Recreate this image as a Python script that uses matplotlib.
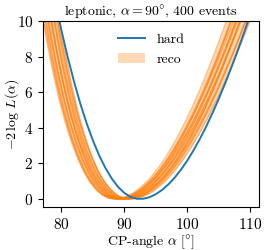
import matplotlib
matplotlib.use("Agg")
import matplotlib.pyplot as plt
import numpy as np
from matplotlib.patches import Patch
from matplotlib.lines import Line2D

plt.rcParams['font.family'] = ['cmr10', 'DejaVu Serif']
plt.rcParams['mathtext.fontset'] = 'cm'
plt.rcParams['axes.formatter.use_mathtext'] = True
plt.rcParams['font.size'] = 9.5

# hard-level -2 log L
alpha_grid = np.arange(78, 112)
hard_vals = [12.9, 11.13, 9.49, 7.98, 6.61, 5.37, 4.27, 3.30, 2.45, 1.74, 1.15,
             0.68, 0.34, 0.115, 0.01, 0.015, 0.10, 0.27, 0.51, 0.82, 1.20,
             1.65, 2.16, 2.74, 3.38, 4.07, 4.83, 5.63, 6.49, 7.39, 8.34,
             9.33, 10.36, 11.4]

# reco shape, relative to its minimum [deg]
reco_offset = np.arange(-12, 21)
reco_vals = [11.51, 9.39, 7.54, 5.92, 4.53, 3.36, 2.39, 1.60, 0.99, 0.54, 0.23,
             0.055, 0.0, 0.035, 0.14, 0.31, 0.55, 0.845, 1.20, 1.62, 2.09,
             2.62, 3.20, 3.83, 4.50, 5.23, 5.99, 6.80, 7.64, 8.52, 9.43,
             10.38, 11.36]

# reco pseudo-experiments: position of minimum and vertical scale
reco_center = [88.4, 88.5, 88.7, 88.8, 89.0, 89.1, 89.3, 89.4, 89.5, 89.7,
               89.8, 90.0, 90.1, 90.3, 90.4, 90.6, 90.7, 90.9]
reco_scale = [1.08, 0.98, 1.04, 0.95, 1.06, 1.00, 1.10, 0.96, 1.03, 0.99,
              1.07, 0.94, 1.02, 1.05, 0.97, 1.09, 1.01, 0.96]

fig = plt.figure(figsize=(2.66, 2.5), dpi=100)
ax = fig.add_axes([0.162, 0.172, 0.812, 0.744])

reco = np.array(reco_vals)
fine = np.linspace(76, 113, 500)
curves = []
for c, k in zip(reco_center, reco_scale):
    y = np.interp(fine, reco_offset + c, reco) * k
    curves.append(y)
    ax.plot(fine, y, color='C1', alpha=0.5, lw=1)
curves = np.array(curves)
ax.fill_between(fine, curves.min(axis=0), curves.max(axis=0), color='C1', alpha=0.3, lw=0)

ax.plot(alpha_grid, hard_vals, color='C0', lw=1.4)

ax.set_xlim(77.1, 111.4)
ax.set_ylim(-0.45, 10)
ax.set_xticks([80, 90, 100, 110])
ax.set_yticks([0, 2, 4, 6, 8, 10])
ax.tick_params(labelsize=11)
ax.set_xlabel(r'CP-angle $\alpha$ [$\degree$]', fontsize=10)
ax.set_ylabel(r'$-2\,\log\,L(\alpha)$', fontsize=10)
ax.xaxis.set_label_coords(0.5, -0.135)
ax.yaxis.set_label_coords(-0.1, 0.5)
ax.set_title(r'leptonic, $\alpha=90\degree$, 400 events', fontsize=10, pad=4)

handles = [Line2D([], [], color='C0', lw=1.4), Patch(color='C1', alpha=0.3, lw=0)]
ax.legend(handles, ['hard', 'reco'], loc='upper center', frameon=False, fontsize=10)

fig.savefig('out.png', dpi=100)
